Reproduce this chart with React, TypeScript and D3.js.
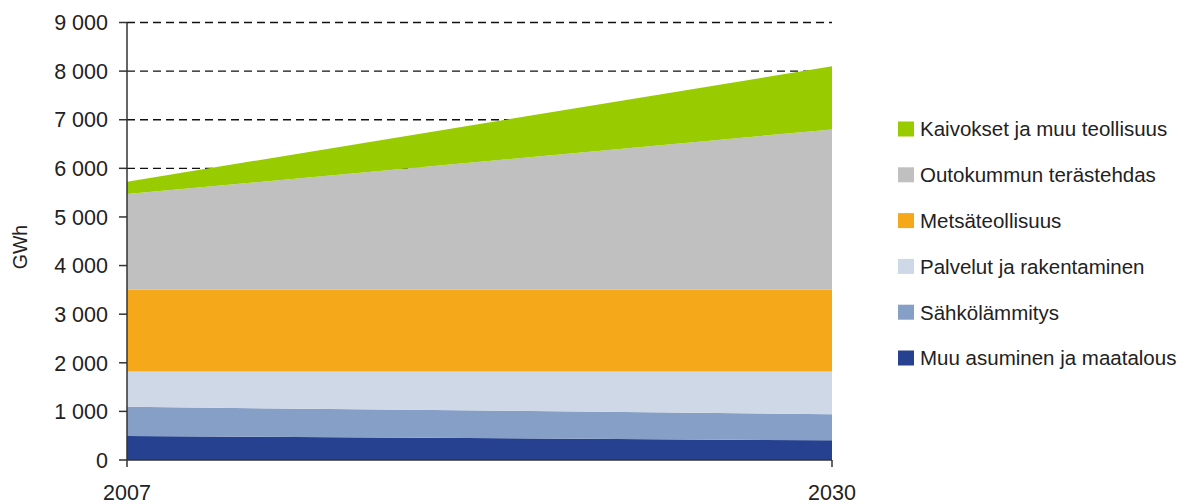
import React from "react";
import * as d3 from "d3";

const years = [2007, 2030];
const series = [
  "Muu asuminen ja maatalous",
  "Sähkölämmitys",
  "Palvelut ja rakentaminen",
  "Metsäteollisuus",
  "Outokummun terästehdas",
  "Kaivokset ja muu teollisuus",
];
const muuAsuminen = [495, 405];
const sahkolammitys = [600, 535];
const palvelut = [725, 880];
const metsa = [1685, 1690];
const outokumpu = [1965, 3290];
const kaivokset = [255, 1300];
const colors = ["#26418F", "#869FC7", "#CED8E6", "#F4A81A", "#C0C0C0", "#99CC00"];
const yTicks = [0, 1000, 2000, 3000, 4000, 5000, 6000, 7000, 8000, 9000];
const gridTicks = [6000, 7000, 8000, 9000];

export default function App() {
  const W = 1187, H = 504;
  const left = 127, right = 832, top = 22.5, bottom = 460;
  const x = d3.scaleLinear().domain([2007, 2030]).range([left, right]);
  const y = d3.scaleLinear().domain([0, 9000]).range([bottom, top]);
  const valuesList = [muuAsuminen, sahkolammitys, palvelut, metsa, outokumpu, kaivokset];
  const table = years.map((yr, i) => {
    const row: any = { year: yr };
    series.forEach((s, k) => (row[s] = valuesList[k][i]));
    return row;
  });
  const stacked = d3.stack().keys(series)(table);
  const area = d3
    .area<any>()
    .x((d) => x(d.data.year))
    .y0((d) => y(d[0]))
    .y1((d) => y(d[1]));
  const fmt = (v: number) => (v >= 1000 ? `${Math.floor(v / 1000)} ${String(v % 1000).padStart(3, "0")}` : String(v));
  const font = "'Liberation Sans', Arial, sans-serif";
  const legendOrder = series.slice().reverse();
  const legendColors = colors.slice().reverse();

  return (
    <svg width={W} height={H} style={{ position: "absolute", left: 0, top: 0 }} fontFamily={font}>
      <rect width={W} height={H} fill="#fff" />
      {gridTicks.map((t) => (
        <line key={t} x1={left} x2={right} y1={y(t)} y2={y(t)} stroke="#111" strokeWidth={1.4} strokeDasharray="8,5" />
      ))}
      {stacked.map((s, i) => (
        <path key={s.key} d={area(s as any) || ""} fill={colors[i]} />
      ))}
      <line x1={left} x2={left} y1={top} y2={bottom + 7} stroke="#333" strokeWidth={1.5} />
      <line x1={left} x2={right} y1={bottom} y2={bottom} stroke="#333" strokeWidth={1.5} />
      <line x1={right} x2={right} y1={bottom} y2={bottom + 7} stroke="#333" strokeWidth={1.5} />
      {yTicks.map((t) => (
        <g key={t}>
          <line x1={left - 8} x2={left} y1={y(t)} y2={y(t)} stroke="#333" strokeWidth={1.5} />
          <text x={108} y={y(t)} dy="0.36em" textAnchor="end" fontSize={21.5} fill="#222">
            {fmt(t)}
          </text>
        </g>
      ))}
      {years.map((yr) => (
        <text key={yr} x={x(yr)} y={500} textAnchor="middle" fontSize={21.5} fill="#222">
          {yr}
        </text>
      ))}
      <text transform="translate(27,247) rotate(-90)" textAnchor="middle" fontSize={19.5} fill="#222">
        GWh
      </text>
      {legendOrder.map((s, i) => (
        <g key={s} transform={`translate(898, ${129 + i * 45.8})`}>
          <rect x={0} y={-7.5} width={16} height={15} fill={legendColors[i]} />
          <text x={22} y={0} dy="0.36em" fontSize={20.5} fill="#222">
            {s}
          </text>
        </g>
      ))}
    </svg>
  );
}
